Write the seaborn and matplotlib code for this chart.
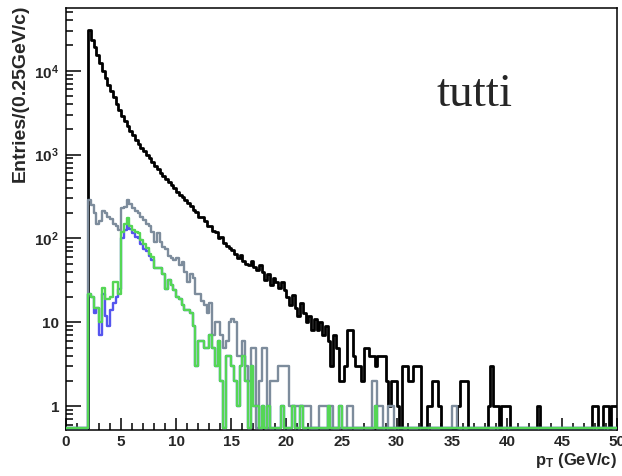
import numpy as np
import pandas as pd
import matplotlib
matplotlib.use('Agg')
import matplotlib.pyplot as plt
import matplotlib.ticker as mticker
import seaborn as sns

# binning of the histograms: 0-50 GeV/c, 0.25 GeV/c per bin
pt_edges = list(np.linspace(0, 50, 201))

# entries per bin, one row = 20 bins = 5 GeV/c
black_counts = [
    0, 0, 0, 0, 0, 0, 0, 0, 31000, 23000, 19000, 15500, 12500, 10000, 8300, 6800, 5700, 4800, 4000, 3400,
    2900, 2500, 2200, 1900, 1700, 1500, 1350, 1200, 1100, 1000, 900, 820, 740, 670, 610, 560, 510, 470, 430, 400,
    360, 330, 315, 285, 265, 245, 220, 205, 180, 178, 160, 140, 142, 122, 118, 100, 104, 88, 82, 78,
    72, 66, 58, 64, 54, 50, 48, 54, 46, 42, 48, 40, 32, 38, 28, 34, 30, 26, 30, 24,
    20, 16, 21, 15, 12, 17, 13, 10, 12, 8, 11, 8, 10, 7, 9, 6, 3, 7, 5, 2,
    2, 3, 8, 8, 4, 3, 3, 2, 5, 5, 4, 4, 3, 4, 4, 4, 2, 1, 2, 2,
    1, 0, 3, 3, 2, 2, 3, 3, 3, 0, 0, 1, 1, 2, 2, 1, 0, 0, 0, 0,
    0, 0, 1, 2, 2, 2, 0, 0, 0, 0, 0, 0, 0, 1, 3, 1, 1, 0, 1, 1,
    1, 0, 0, 0, 0, 0, 0, 0, 0, 0, 0, 1, 0, 0, 0, 0, 0, 0, 0, 0,
    0, 0, 0, 0, 0, 0, 0, 0, 0, 0, 0, 1, 1, 0, 0, 1, 1, 0, 1, 1,
]
gray_counts = [
    0, 0, 0, 0, 0, 0, 0, 0, 290, 250, 200, 150, 160, 215, 200, 180, 170, 150, 140, 125,
    230, 240, 290, 260, 230, 215, 200, 180, 165, 150, 140, 120, 90, 115, 90, 80, 75, 62, 58, 55,
    58, 48, 52, 40, 30, 38, 34, 22, 22, 18, 16, 13, 17, 7, 10, 10, 7, 5, 6, 10,
    11, 10, 4, 4, 6, 3, 2, 5, 5, 0, 2, 5, 5, 0, 2, 2, 2, 3, 3, 3,
    3, 1, 1, 1, 1, 1, 1, 1, 1, 0, 0, 0, 1, 1, 1, 0, 1, 0, 0, 0,
    0, 0, 1, 1, 0, 0, 0, 0, 0, 0, 0, 2, 2, 1, 1, 0, 0, 1, 1, 0,
    0, 0, 0, 0, 0, 0, 0, 0, 0, 0, 0, 0, 0, 0, 0, 0, 0, 0, 0, 0,
    1, 1, 0, 0, 0, 0, 0, 0, 0, 0, 0, 0, 0, 0, 0, 0, 0, 0, 0, 0,
    0, 0, 0, 0, 0, 0, 0, 0, 0, 0, 0, 0, 0, 0, 0, 0, 0, 0, 0, 0,
    0, 0, 0, 0, 0, 0, 0, 0, 0, 0, 0, 0, 0, 0, 0, 0, 0, 0, 0, 0,
]
green_counts = [
    0, 0, 0, 0, 0, 0, 0, 0, 22, 20, 15, 15, 10, 26, 19, 19, 20, 30, 30, 22,
    120, 150, 175, 140, 125, 120, 115, 95, 85, 78, 66, 60, 44, 44, 44, 38, 25, 32, 28, 24,
    20, 19, 16, 14, 14, 13, 9, 3, 6, 6, 5, 5, 7, 5, 3, 6, 2, 0, 4, 4,
    3, 2, 1, 3, 4, 2, 0, 3, 1, 1, 0, 1, 0, 1, 0, 0, 0, 0, 1, 0,
    0, 0, 1, 0, 0, 1, 0, 0, 0, 0, 0, 0, 0, 0, 0, 1, 0, 0, 0, 1,
    0, 0, 0, 0, 0, 0, 0, 0, 0, 0, 0, 0, 1, 0, 0, 0, 0, 0, 0, 0,
    0, 0, 0, 0, 0, 0, 0, 0, 0, 0, 0, 0, 0, 0, 0, 0, 0, 0, 0, 0,
    0, 0, 0, 0, 0, 0, 0, 0, 0, 0, 0, 0, 0, 0, 0, 0, 0, 0, 0, 0,
    0, 0, 0, 0, 0, 0, 0, 0, 0, 0, 0, 0, 0, 0, 0, 0, 0, 0, 0, 0,
    0, 0, 0, 0, 0, 0, 0, 0, 0, 0, 0, 0, 0, 0, 0, 0, 0, 0, 0, 0,
]
# blue is only visible below 8 GeV/c, above that it lies under the green one
blue_low = [
    0, 0, 0, 0, 0, 0, 0, 0, 22, 20, 13, 15, 7, 22, 12, 9, 14, 17, 20, 25,
    100, 125, 150, 130, 115, 105, 100, 85, 75, 70, 62, 55,
]
blue_counts = blue_low + green_counts[len(blue_low):]

y_labels = ['1', '10', r'$10^{2}$', r'$10^{3}$', r'$10^{4}$']
y_min, y_max = 0.52, 56000
empty_level = 0.545  # where ROOT draws empty bins: just on the frame bottom

sns.set_style('ticks')
plt.rcParams['font.family'] = ['Liberation Sans', 'DejaVu Sans']
plt.rcParams['font.weight'] = 'bold'
plt.rcParams['mathtext.fontset'] = 'custom'
plt.rcParams['mathtext.rm'] = 'Liberation Sans:bold'
plt.rcParams['mathtext.it'] = 'Liberation Sans:bold'
plt.rcParams['mathtext.bf'] = 'Liberation Sans:bold'

fig = plt.figure(figsize=(6.22, 4.76), dpi=100)
ax = fig.add_axes([66 / 622, 1 - 430 / 476, 551 / 622, 422 / 476])

centers = [0.5 * (lo + hi) for lo, hi in zip(pt_edges[:-1], pt_edges[1:])]
series = [
    (black_counts, '#000000', 2.0),
    (gray_counts, '#7d8c9c', 1.7),
    (blue_counts, '#5555ee', 1.7),
    (green_counts, '#55d655', 1.7),
]
for counts, color, lw in series:
    df = pd.DataFrame({'pt': centers, 'entries': np.clip(counts, empty_level, None)})
    sns.histplot(data=df, x='pt', weights='entries', bins=pt_edges, element='step',
                 fill=False, color=color, linewidth=lw, ax=ax, zorder=3)

ax.set_yscale('log', nonpositive='clip')
ax.set_xlim(0, 50)
ax.set_ylim(y_min, y_max)
ax.set_xlabel('')
ax.set_ylabel('')

ax.xaxis.set_major_locator(mticker.MultipleLocator(5))
ax.xaxis.set_minor_locator(mticker.MultipleLocator(1))
ax.yaxis.set_major_locator(mticker.FixedLocator([1, 10, 100, 1000, 10000]))
ax.yaxis.set_major_formatter(mticker.FixedFormatter(y_labels))
ax.yaxis.set_minor_locator(mticker.LogLocator(base=10, subs=np.arange(2, 10), numticks=20))
ax.yaxis.set_minor_formatter(mticker.NullFormatter())

ax.tick_params(which='both', direction='in', top=False, right=False, color='black', width=1.1)
ax.tick_params(axis='y', which='major', length=10.8, pad=5, labelsize=11)
ax.tick_params(axis='y', which='minor', length=5.2)
ax.tick_params(axis='x', which='major', length=8.6, pad=3.5, labelsize=11)
ax.tick_params(axis='x', which='minor', length=4.8)
for spine in ax.spines.values():
    spine.set_visible(True)
    spine.set_linewidth(1.1)
    spine.set_color('black')

fig.text(20 / 622, 1 - 5 / 476, 'Entries/(0.25GeV/c)', rotation=90,
         ha='center', va='top', fontsize=14, fontweight='bold')
fig.text(617 / 622, 1 - 460 / 476, r'p$_\mathrm{T}$ (GeV/c)',
         ha='right', va='center', fontsize=12, fontweight='bold')
fig.text(474 / 622, 1 - 95 / 476, 'tutti', family='Liberation Serif',
         fontsize=34, fontweight='normal', ha='center', va='center')

fig.savefig('out.png', dpi=100)
